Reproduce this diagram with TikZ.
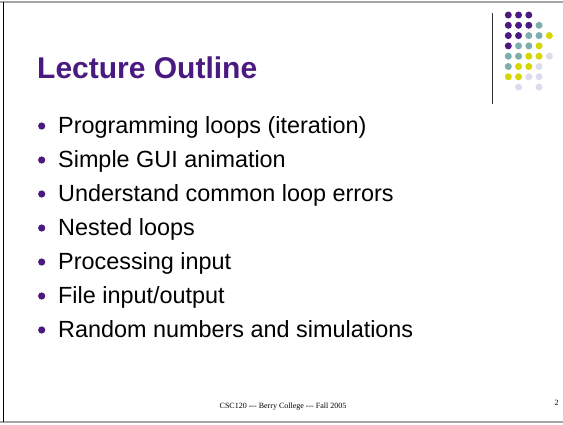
\documentclass[tikz,border=0pt]{standalone}
\usepackage{fontspec}
\setmainfont{Liberation Sans}
\newfontfamily\footfont{Liberation Serif}
\definecolor{titlepurple}{HTML}{4B1A80}
\definecolor{dotP}{HTML}{4B1A80}
\definecolor{dotT}{HTML}{7DADAD}
\definecolor{dotY}{HTML}{D6D600}
\definecolor{dotL}{HTML}{DCDCEE}
\def\skipN{N}
\begin{document}
\begin{tikzpicture}[x=1pt,y=-1pt,
  item/.style={anchor=base west,inner sep=0pt,font=\fontsize{23.4}{28}\selectfont},
  bul/.style={circle,fill=dotP,inner sep=0pt,minimum size=7.2pt},
  gdot/.style={circle,inner sep=0pt,minimum size=7pt}]
\useasboundingbox (0,0) rectangle (563,424);
\fill[white] (0,0) rectangle (563,424);
% frame
\draw[gray!70,line width=1.5pt] (0,2) -- (563,2);
\draw[gray!70,line width=1.5pt] (0,422) -- (563,422);
\draw[black,line width=1.2pt] (3.5,2) -- (3.5,422);
% logo
\draw[black!80,line width=0.8pt] (492.7,13) -- (492.7,104);
\foreach \r/\row in {0/{P,P,P,N,N},1/{P,P,P,T,N},2/{P,P,T,T,Y},3/{P,T,T,Y,N},4/{T,T,Y,Y,L},5/{T,Y,Y,L,N},6/{Y,Y,L,L,N},7/{N,L,N,L,N}}{
  \foreach \c [count=\i from 0] in \row {
    \ifx\c\skipN\else
      \node[gdot,fill=dot\c] (d\r\i) at ({508.3+10.25*\i},{15+10.3*\r}) {};
    \fi
  }
}
% title
\node[anchor=base west,inner sep=0pt,text=titlepurple,font=\fontsize{30}{36}\selectfont\bfseries] (title) at (37,78) {Lecture Outline};
% bullets
\foreach \t [count=\k from 0] in {Programming loops (iteration),Simple GUI animation,Understand common loop errors,Nested loops,Processing input,File input/output,Random numbers and simulations}{
  \node[bul] (b\k) at (41.7,{126+34*\k}) {};
  \node[item] (t\k) at (58,{133.5+34*\k}) {\t};
}
% footer
\node[inner sep=0pt,font=\footfont\fontsize{8}{10}\selectfont] (foot) at (283,407) {CSC120 --- Berry College --- Fall 2005};
\node[inner sep=0pt,font=\footfont\fontsize{8}{10}\selectfont] (pnum) at (556.5,403) {2};
\end{tikzpicture}
\end{document}
